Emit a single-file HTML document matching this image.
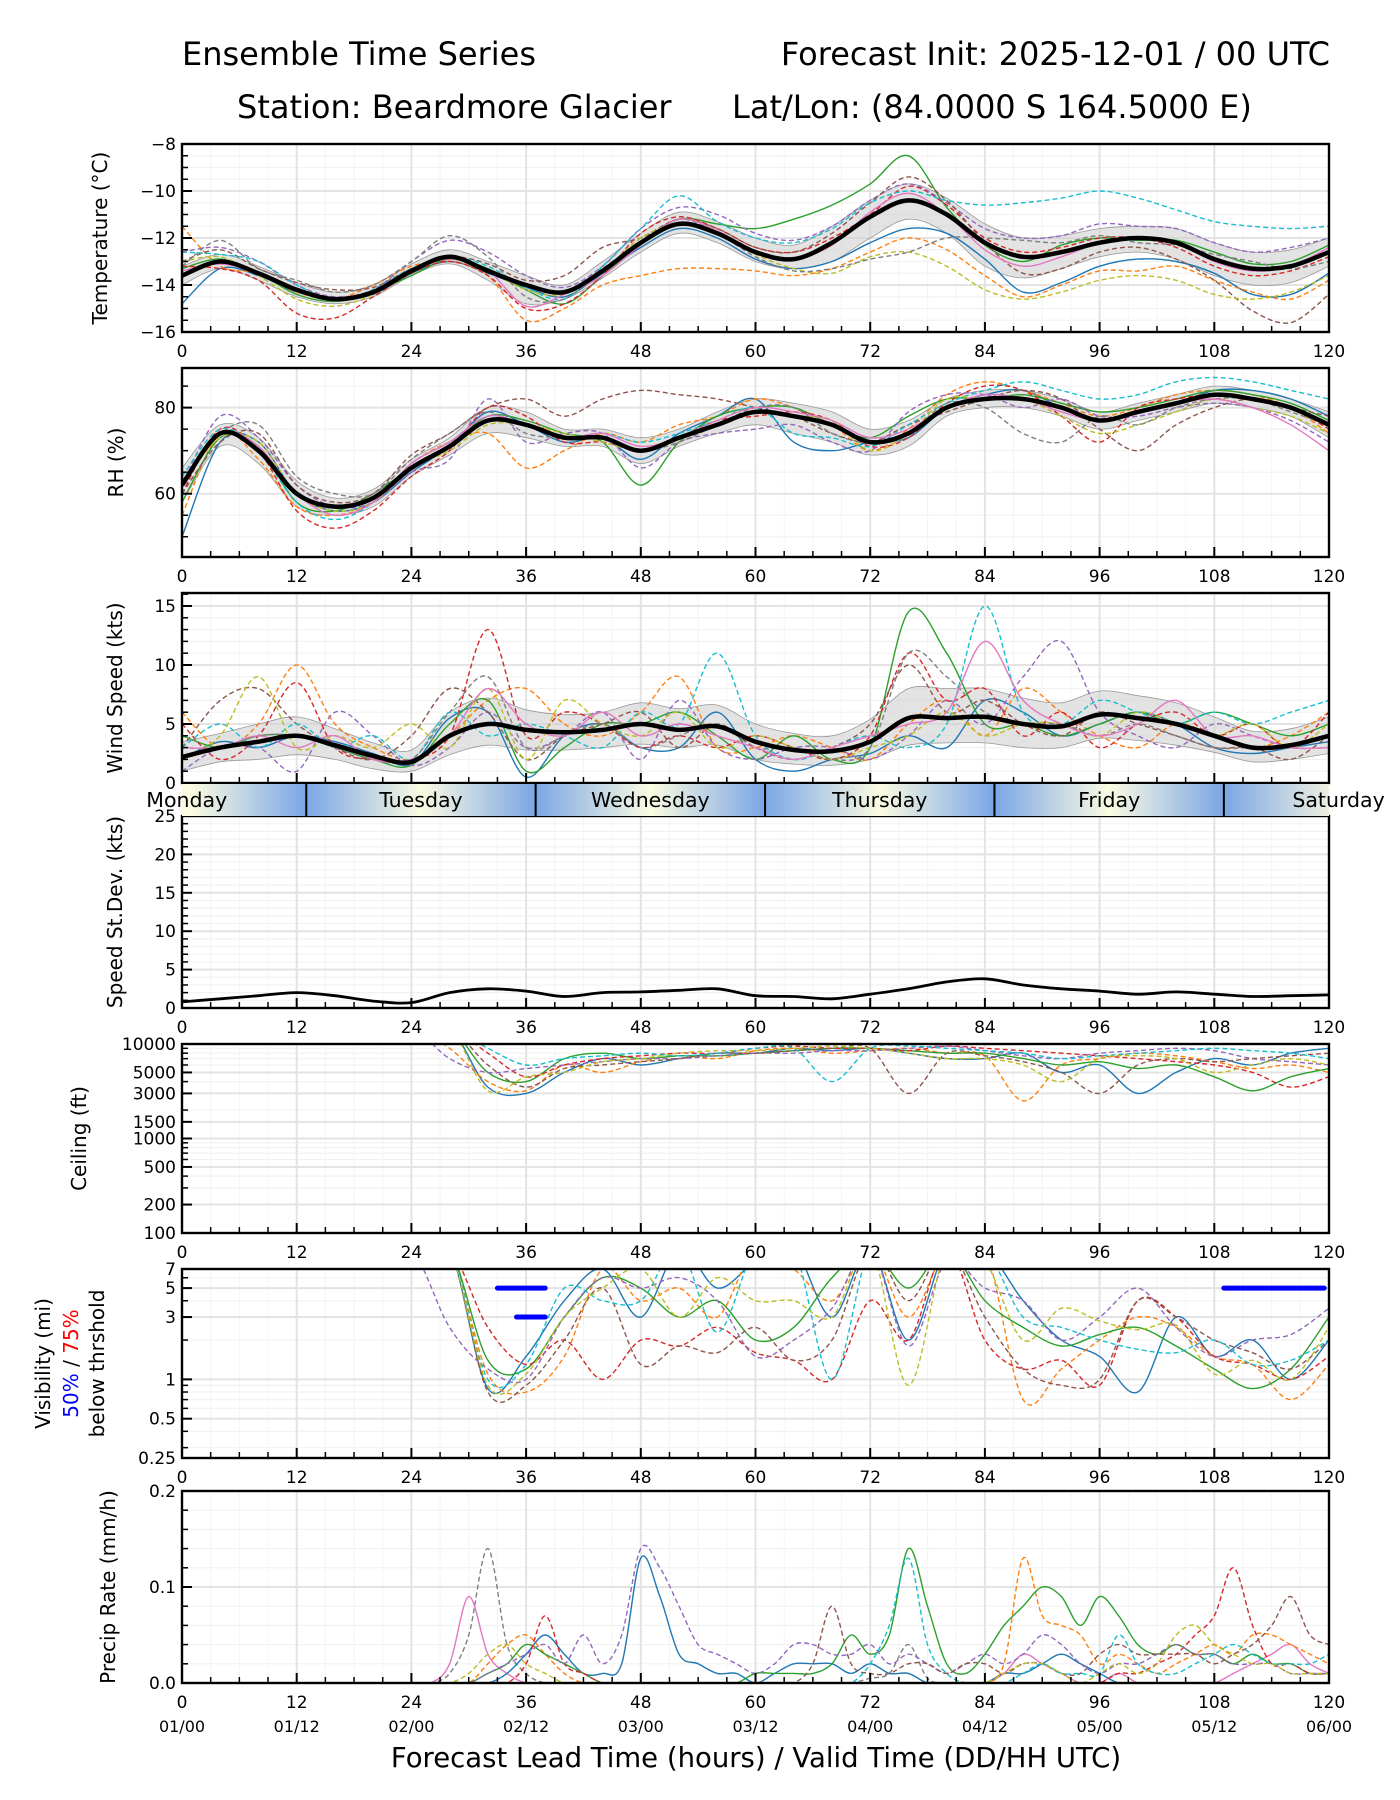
<!DOCTYPE html>
<html><head><meta charset="utf-8"><style>
html,body{margin:0;padding:0;background:#fff;}
svg{display:block;font-family:"DejaVu Sans","Liberation Sans",sans-serif;}
</style></head><body>
<svg id="fig" width="1400" height="1800" viewBox="0 0 1400 1800" xmlns="http://www.w3.org/2000/svg">
<defs>
<linearGradient id="dayGrad" x1="0" x2="1" y1="0" y2="0">
<stop offset="0" stop-color="#fbfbe2"/><stop offset="0.0083" stop-color="#fbfbe2"/>
<stop offset="0.108" stop-color="#7aa6e6"/><stop offset="0.2083" stop-color="#fbfbe2"/>
<stop offset="0.308" stop-color="#7aa6e6"/><stop offset="0.4083" stop-color="#fbfbe2"/>
<stop offset="0.508" stop-color="#7aa6e6"/><stop offset="0.6083" stop-color="#fbfbe2"/>
<stop offset="0.708" stop-color="#7aa6e6"/><stop offset="0.8083" stop-color="#fbfbe2"/>
<stop offset="0.908" stop-color="#7aa6e6"/><stop offset="1" stop-color="#eef0e0"/>
</linearGradient>
</defs>
<text x="182" y="65" font-size="32">Ensemble Time Series</text>
<text x="1330" y="65" font-size="32" text-anchor="end">Forecast Init: 2025-12-01 / 00 UTC</text>
<text x="237" y="118" font-size="32">Station: Beardmore Glacier</text>
<text x="732" y="118" font-size="32">Lat/Lon: (84.0000 S 164.5000 E)</text>
<g id="content"></g>
</svg>
<script>
// ---------- DATA ----------
const hours4 = [0,4,8,12,16,20,24,28,32,36,40,44,48,52,56,60,64,68,72,76,80,84,88,92,96,100,104,108,112,116,120];
const hours2 = [0,2,4,6,8,10,12,14,16,18,20,22,24,26,28,30,32,34,36,38,40,42,44,46,48,50,52,54,56,58,60,62,64,66,68,70,72,74,76,78,80,82,84,86,88,90,92,94,96,98,100,102,104,106,108,110,112,114,116,118,120];
const xTicks = [0,12,24,36,48,60,72,84,96,108,120];
const dateLabels = ["01/00","01/12","02/00","02/12","03/00","03/12","04/00","04/12","05/00","05/12","06/00"];
const dayNames = ["Monday","Tuesday","Wednesday","Thursday","Friday","Saturday"];
const dayCenters = [0.5,25,49,73,97,121];
const dayBounds = [13,37,61,85,109];

const tempMean = [-13.6,-13.0,-13.5,-14.2,-14.6,-14.3,-13.4,-12.8,-13.4,-14.0,-14.3,-13.4,-12.2,-11.4,-11.8,-12.6,-12.9,-12.2,-11.1,-10.4,-11.0,-12.2,-12.8,-12.6,-12.2,-12.0,-12.2,-12.9,-13.3,-13.2,-12.6];
const tempLo = [-14.0,-13.3,-13.8,-14.5,-14.8,-14.5,-13.6,-13.1,-13.8,-14.8,-14.6,-13.7,-12.6,-11.8,-12.2,-13.0,-13.3,-13.0,-12.0,-11.2,-11.8,-13.2,-13.7,-13.3,-12.8,-12.6,-12.9,-13.6,-14.0,-13.9,-13.2];
const tempHi = [-13.2,-12.7,-13.2,-13.9,-14.3,-14.0,-13.1,-12.5,-13.0,-13.6,-14.0,-13.0,-11.8,-10.9,-11.3,-12.0,-12.3,-11.5,-10.4,-9.7,-10.3,-11.4,-12.0,-11.9,-11.6,-11.5,-11.6,-12.2,-12.6,-12.5,-12.0];
const tempM1 = [-14.8,-13.3,-13.6,-14.3,-14.6,-14.4,-13.5,-13.0,-13.5,-14.1,-14.5,-13.5,-12.4,-11.6,-12.0,-12.9,-13.3,-13.0,-12.2,-11.6,-11.8,-12.9,-14.3,-13.9,-13.2,-12.9,-13.0,-13.5,-14.4,-14.4,-13.5];
const tempM2 = [-11.5,-13.2,-13.5,-14.3,-14.6,-14.0,-13.2,-13.0,-13.6,-15.5,-15.0,-14.0,-13.6,-13.3,-13.3,-13.4,-13.6,-13.3,-12.6,-12.0,-12.5,-13.6,-14.5,-14.0,-13.4,-13.4,-13.2,-13.8,-14.3,-14.6,-13.8];
const tempM3 = [-13.3,-12.9,-13.5,-14.4,-14.7,-14.3,-13.6,-12.9,-13.3,-14.2,-14.8,-13.6,-12.2,-11.2,-11.4,-11.6,-11.2,-10.6,-9.7,-8.5,-10.7,-12.3,-13.0,-12.3,-12.0,-12.1,-12.1,-12.6,-13.1,-13.0,-12.3];
const tempM4 = [-13.2,-13.3,-13.8,-15.2,-15.4,-14.5,-13.5,-13.0,-13.6,-15.0,-14.8,-13.6,-11.8,-11.1,-11.6,-12.4,-12.6,-12.0,-11.0,-9.8,-10.6,-12.0,-12.6,-12.4,-12.0,-12.0,-12.4,-13.2,-13.6,-13.4,-12.8];
const tempM5 = [-12.6,-12.4,-13.0,-14.0,-14.5,-14.2,-13.0,-12.1,-12.6,-13.6,-14.1,-13.2,-11.6,-10.7,-11.0,-11.8,-12.1,-11.5,-10.4,-9.7,-10.5,-11.6,-12.0,-11.9,-11.4,-11.5,-11.6,-12.2,-12.6,-12.4,-12.0];
const tempM6 = [-13.0,-12.5,-13.3,-13.9,-14.2,-14.1,-13.3,-12.8,-13.1,-13.8,-13.6,-12.4,-12.0,-11.2,-11.6,-12.4,-12.6,-11.8,-10.5,-9.4,-10.4,-12.2,-13.5,-13.3,-12.6,-12.4,-12.9,-13.8,-15.1,-15.6,-14.4];
const tempM7 = [-12.6,-12.7,-13.0,-14.0,-14.6,-14.2,-13.3,-12.8,-13.2,-14.1,-14.6,-13.2,-11.6,-10.2,-11.3,-12.0,-12.2,-11.6,-10.5,-10.0,-10.4,-10.6,-10.5,-10.3,-10.0,-10.3,-10.8,-11.3,-11.5,-11.6,-11.5];
const tempM8 = [-13.0,-12.8,-13.6,-14.6,-14.9,-14.4,-13.4,-12.9,-13.4,-14.2,-14.4,-13.4,-12.0,-11.4,-11.8,-12.7,-13.3,-13.5,-12.8,-12.6,-13.2,-14.2,-14.6,-14.3,-13.8,-13.6,-13.8,-14.4,-14.6,-14.3,-13.6];
const tempM9 = [-13.2,-12.1,-13.3,-13.8,-14.3,-14.0,-13.0,-11.9,-12.8,-14.5,-14.6,-13.3,-12.2,-11.2,-11.8,-12.8,-13.4,-13.3,-12.9,-12.6,-12.0,-12.0,-12.1,-12.2,-11.9,-12.2,-12.3,-12.7,-13.0,-13.3,-13.0];
const tempM10 = [-13.4,-13.1,-13.5,-14.2,-14.6,-14.3,-13.4,-12.9,-13.4,-14.9,-14.4,-13.6,-12.3,-11.2,-11.7,-12.6,-12.9,-12.3,-10.9,-10.1,-11.0,-12.5,-13.2,-12.8,-12.2,-12.0,-12.2,-13.0,-13.4,-13.2,-12.4];

const rhMean = [62,74,70,60,57,59,66,71,77,76,73,73,70,73,76,79,78,76,72,74,80,82,82,80,77,79,81,83,82,80,76];
const rhLo = [58,71,67,57,55,57,64,69,74,73,71,71,67,71,74,76,74,72,69,71,78,80,80,78,75,77,79,81,80,78,73];
const rhHi = [66,76,73,63,59,61,68,73,80,79,75,75,73,75,79,82,81,79,75,77,82,84,84,82,79,81,83,85,84,82,79];
const rhM1 = [50,72,72,60,56,58,65,71,79,76,72,73,68,74,78,82,72,70,72,73,80,83,84,80,77,79,81,84,84,82,78];
const rhM2 = [55,74,68,57,55,58,67,72,74,66,70,74,72,76,78,82,80,76,70,75,83,86,84,81,78,80,83,84,83,80,74];
const rhM3 = [58,73,71,58,56,60,66,71,78,77,74,72,62,72,78,80,80,76,73,78,82,82,83,81,79,80,82,84,83,81,77];
const rhM4 = [60,75,70,56,52,56,64,70,80,78,72,72,70,73,77,78,79,77,71,73,81,85,84,78,72,80,82,83,82,80,75];
const rhM5 = [62,78,73,62,57,58,65,68,82,72,74,74,66,72,74,75,76,72,70,79,83,83,80,82,78,78,80,81,80,77,72];
const rhM6 = [60,72,74,62,58,60,69,74,80,82,78,82,84,83,82,80,78,74,72,76,79,82,84,82,75,70,76,80,82,80,78];
const rhM7 = [64,75,70,58,54,58,67,72,78,76,73,74,72,74,77,80,74,73,71,76,81,84,86,84,82,83,86,87,86,84,82];
const rhM8 = [62,73,72,60,56,58,66,70,76,76,74,72,70,72,76,79,78,77,70,74,82,82,82,78,74,76,79,82,80,78,74];
const rhM9 = [63,74,76,64,60,60,68,74,79,74,73,73,70,72,76,80,80,74,72,74,81,80,74,72,78,76,80,82,82,79,76];
const rhM10 = [62,74,71,60,55,58,67,72,78,76,73,74,71,73,77,80,79,77,73,75,80,83,82,79,77,79,81,82,80,76,70];

const windMean = [2.2,3.0,3.5,4.0,3.2,2.3,1.8,4.0,5.0,4.5,4.3,4.5,5.0,4.5,4.8,3.5,2.8,2.7,3.5,5.5,5.5,5.6,5.0,4.8,5.8,5.5,5.0,4.0,3.0,3.2,4.0];
const windLo = [1.0,1.8,2.0,2.4,2.0,1.2,1.0,2.4,3.2,2.8,2.8,3.0,3.3,3.0,3.2,2.0,1.6,1.5,2.0,3.2,3.4,3.4,3.0,3.0,3.8,3.6,3.2,2.6,1.8,2.0,2.5];
const windHi = [3.5,4.2,5.0,5.6,4.6,3.4,2.8,6.0,7.2,6.2,5.8,6.0,6.8,6.3,6.6,5.0,4.2,4.0,5.4,8.0,8.0,8.0,7.2,6.8,7.8,7.4,6.8,5.6,4.4,4.6,5.6];
const windM1 = [2,3.5,3,4,3.5,2.5,1.6,5.5,6,0.5,4,5,3,3,6,2,1,2,2.5,4,3,7,6,4,5,6,5,3,2.5,3,3.5];
const windM2 = [6,3,5,10,5,3,2,4,7,8,5,4,6,9,3,3,4,3,2,5,7,4,8,6,4,3,5,4,3,4,6];
const windM3 = [4,3,4,4,3,2,1.5,5,7,1,3,5,5,6,4,2,4,2,3,14.5,11,5,5,4,5,6,5,6,5,4,5];
const windM4 = [5,2,4,8.5,3,2,2,4,13,4,6,5,3,4,3,4,3,2,4,11,7,8,4,6,3,5,6,4,5,3,6];
const windM5 = [1,3,3,1,6,4,1.5,3,6,3,4,6,2,7,3,2,3,3,2,4,7,5,9,12,6,4,3,5,4,3,3];
const windM6 = [3,7,8,5,3,2,4,8,6,2,4,5,6,3,5,3,2,3,5,10,6,7,5,4,6,5,4,3,3,2,4];
const windM7 = [3,5,3,5,3,4,2,6,4,5,4,3,6,5,11,4,2,3,4,3,5,15,6,5,7,6,5,6,5,6,7];
const windM8 = [2,4,9,3,4,3,5,3,8,2,7,5,4,6,3,4,3,2,3,4,6,4,5,5,4,6,5,4,5,3,5];
const windM9 = [3,3,4,4,3,2,2,6,9,3,4,5,3,4,5,3,3,2,3,11,9,6,5,5,4,5,4,3,3,3,4];
const windM10 = [3,3,4,3,4,2,2,4,8,5,4,6,4,5,4,3,2,3,4,5,6,12,7,5,4,5,7,4,4,3,3];

const sdMean = [0.8,1.2,1.6,2.0,1.6,0.9,0.7,2.0,2.5,2.2,1.5,2.0,2.1,2.3,2.5,1.6,1.5,1.2,1.8,2.5,3.4,3.8,3.0,2.5,2.2,1.8,2.1,1.8,1.5,1.6,1.7];

const ceilM1 = [15000,15000,15000,15000,15000,15000,15000,15000,3500,3000,5000,7000,6000,7000,8000,8000,9000,8500,9000,8000,7000,7000,8000,5000,6000,3000,5000,7000,6000,8000,9000];
const ceilM2 = [15000,15000,15000,15000,15000,15000,15000,9000,4000,3200,6000,5000,6500,7500,7000,8500,9000,8000,8500,9000,8000,7500,2500,6000,7000,8000,7500,6500,5500,6000,5000];
const ceilM3 = [15000,15000,15000,15000,15000,15000,15000,15000,5000,4000,7000,8000,7000,7500,7500,8000,8500,9000,9000,8500,8000,8000,7000,6000,6500,5500,6000,4500,3200,4500,5500];
const ceilM4 = [15000,15000,15000,15000,15000,15000,15000,15000,8000,4500,6000,7000,7500,8000,8000,9000,9500,9000,9000,8500,9500,9000,8500,8000,7500,7000,6500,6000,5000,3500,4500];
const ceilM5 = [15000,15000,15000,15000,15000,15000,15000,7000,5000,5500,6000,6500,7000,7000,7500,8000,8000,8500,8500,9000,9500,8500,7500,7000,8000,8500,9000,8500,7000,6500,6000];
const ceilM6 = [15000,15000,15000,15000,15000,15000,15000,15000,6000,3500,5500,6000,6500,7000,8000,8000,8500,9000,9000,3000,8000,7500,6500,5000,3000,6000,7000,6500,7000,7500,8000];
const ceilM7 = [15000,15000,15000,15000,15000,15000,15000,15000,9000,6000,7000,7500,8000,7500,8000,9000,9000,4000,9000,9500,9000,8500,8000,7000,7500,8000,8500,9000,8500,8000,7000];
const ceilM8 = [15000,15000,15000,15000,15000,15000,15000,15000,3200,4500,5000,6500,7000,8000,8500,8500,9000,9500,9000,8000,7000,7000,6000,4000,7000,7500,7000,5000,6000,7000,6000];

const visM1 = [10,10,10,10,10,10,10,10,0.85,1.5,4,7,3,10,5,8,10,3,10,2,10,10,4,2,1.5,0.8,3,1.5,2,1.0,2];
const visM2 = [10,10,10,10,10,10,10,10,1.1,0.8,1.5,7,4,5,3,10,7,4,10,3,10,10,0.7,1.2,2,3,2.5,1.5,1.3,0.7,1.3];
const visM3 = [10,10,10,10,10,10,10,10,1.4,1.2,3,6,5,3,4,2,2.5,6,10,5,10,4,2.5,1.8,2.2,2.5,1.8,1.2,0.85,1.2,3];
const visM4 = [10,10,10,10,10,10,10,10,2.5,1.3,2,1.0,2,1.8,2.5,1.6,1.4,1.0,4,2,10,2,1.2,1.4,0.9,4,3,1.5,1.3,1.0,1.5];
const visM5 = [10,10,10,10,10,10,10,2.5,1.2,1.0,3,6,5,6,4,1.5,2,3.5,10,1.8,8,5,4,2,3,5,2.5,1.5,2,2.2,3.5];
const visM6 = [10,10,10,10,10,10,10,10,0.8,0.9,2,5,1.3,1.8,1.6,2.5,1.4,2,10,4,10,3,1.2,0.9,1.0,4,3,2,1.6,1.2,2];
const visM7 = [10,10,10,10,10,10,10,10,1.0,1.3,5,4,4,10,2.3,10,10,1.0,10,7,10,10,3,2.5,2,1.7,1.6,2,1.3,1.4,2];
const visM8 = [10,10,10,10,10,10,10,10,0.9,1.1,3,5,7,3,6,4,4,3,10,0.9,10,8,2,3.5,2.8,2.4,2.6,1.1,1.4,1.0,2.5];
const visThreshA = [33,38,5];
const visThreshB = [35,38,3];
const visThreshC = [109,119.5,5];

const prM1 = [0,0,0,0,0,0,0,0,0,0,0,0,0,0,0.01,0.05,0.14,0.04,0.01,0,0,0,0,0,0,0,0,0,0,0,0,0,0,0,0,0,0.005,0.01,0.04,0.005,0,0,0,0,0,0,0,0,0,0,0,0,0,0,0,0,0,0,0,0,0];
const prM2 = [0,0,0,0,0,0,0,0,0,0,0,0,0,0,0.02,0.09,0.03,0.01,0,0,0,0,0,0,0,0,0,0,0,0,0,0,0,0,0,0,0,0,0,0,0,0,0,0.01,0.03,0.02,0.01,0,0,0.01,0,0,0,0,0,0.01,0.02,0.03,0.04,0.02,0.01];
const prM3 = [0,0,0,0,0,0,0,0,0,0,0,0,0,0,0,0,0,0.01,0.03,0.05,0.03,0.01,0.01,0.02,0.13,0.09,0.03,0.02,0.01,0.01,0,0.01,0.02,0.02,0.02,0.01,0.02,0.01,0.01,0,0,0,0,0.01,0.01,0.02,0.03,0.02,0.01,0,0,0,0,0,0,0,0,0,0,0,0];
const prM4 = [0,0,0,0,0,0,0,0,0,0,0,0,0,0,0,0,0.02,0.04,0.05,0.03,0.01,0,0,0,0,0,0,0,0,0,0,0,0,0,0,0,0,0,0,0,0,0,0,0.02,0.13,0.07,0.06,0.05,0.02,0.03,0.02,0.01,0.02,0.03,0.04,0.03,0.05,0.05,0.04,0.03,0.02];
const prM5 = [0,0,0,0,0,0,0,0,0,0,0,0,0,0,0,0,0.01,0.02,0.04,0.03,0.02,0.01,0,0,0,0,0,0,0,0,0.01,0.01,0.01,0.01,0.02,0.05,0.03,0.05,0.14,0.08,0.02,0.01,0.03,0.06,0.08,0.10,0.09,0.06,0.09,0.07,0.04,0.03,0.04,0.03,0.03,0.02,0.03,0.02,0.02,0.01,0.01];
const prM6 = [0,0,0,0,0,0,0,0,0,0,0,0,0,0,0,0,0,0,0.02,0.07,0.02,0.01,0,0,0,0,0,0,0,0,0,0,0,0,0,0,0,0,0,0,0,0,0,0,0,0,0,0,0,0.01,0.01,0.02,0.03,0.05,0.07,0.12,0.06,0.02,0.02,0.01,0.01];
const prM7 = [0,0,0,0,0,0,0,0,0,0,0,0,0,0,0,0,0.01,0.02,0.03,0.04,0.02,0.05,0.02,0.05,0.14,0.12,0.08,0.04,0.03,0.02,0.01,0.02,0.04,0.04,0.03,0.03,0.04,0.02,0.03,0.02,0.01,0.02,0.03,0.02,0.03,0.05,0.04,0.02,0.01,0.02,0.02,0.03,0.04,0.03,0.03,0.02,0.02,0.02,0.01,0.01,0.01];
const prM8 = [0,0,0,0,0,0,0,0,0,0,0,0,0,0,0,0,0,0,0,0,0,0,0,0,0,0,0,0,0,0,0,0,0,0.02,0.08,0.02,0.01,0.01,0.02,0.02,0.01,0.02,0.02,0.01,0.02,0.02,0.01,0.01,0.03,0.04,0.03,0.03,0.03,0.03,0.02,0.03,0.04,0.06,0.09,0.05,0.04];
const prM9 = [0,0,0,0,0,0,0,0,0,0,0,0,0,0,0,0,0,0,0,0,0,0,0,0,0,0,0,0,0,0,0,0,0,0,0,0,0.02,0.06,0.13,0.04,0.01,0,0,0,0.01,0.02,0.01,0.01,0.01,0.05,0.02,0.01,0.01,0.02,0.03,0.04,0.03,0.02,0.02,0.02,0.03];
const prM10 = [0,0,0,0,0,0,0,0,0,0,0,0,0,0,0,0.01,0.03,0.04,0.02,0.01,0,0,0,0,0,0,0,0,0,0,0,0,0,0,0,0,0,0,0,0,0,0,0,0.01,0.02,0.02,0.01,0,0.01,0.02,0.01,0.02,0.05,0.06,0.04,0.03,0.02,0.02,0.01,0.01,0.01];

const colors = ["#1f77b4","#ff7f0e","#2ca02c","#d62728","#9467bd","#8c564b","#17becf","#bcbd22","#7f7f7f","#e377c2"];
const dashes = [false,true,false,true,true,true,true,true,true,false];

// ---------- LAYOUT ----------
const NS = "http://www.w3.org/2000/svg";
const root = document.getElementById("content");
const X0 = 182, X1 = 1329;
function xs(h){ return X0 + h*(X1-X0)/120; }
function mk(tag, attrs, parent){
  const e = document.createElementNS(NS, tag);
  for (const k in attrs) e.setAttribute(k, attrs[k]);
  (parent||root).appendChild(e);
  return e;
}
function makeY(p){
  if (p.log){
    const a = Math.log(p.min), b = Math.log(p.max);
    return v => p.bot - (Math.log(v)-a)/(b-a)*(p.bot-p.top);
  }
  return v => p.bot - (v-p.min)/(p.max-p.min)*(p.bot-p.top);
}
function smoothPath(xsArr, ysArr){
  let d = "M" + xsArr[0].toFixed(1) + "," + ysArr[0].toFixed(1);
  for (let i=0;i<xsArr.length-1;i++){
    const x0=xsArr[Math.max(0,i-1)], y0=ysArr[Math.max(0,i-1)];
    const x1=xsArr[i], y1=ysArr[i], x2=xsArr[i+1], y2=ysArr[i+1];
    const x3=xsArr[Math.min(xsArr.length-1,i+2)], y3=ysArr[Math.min(xsArr.length-1,i+2)];
    const c1x=x1+(x2-x0)/6, c1y=y1+(y2-y0)/6, c2x=x2-(x3-x1)/6, c2y=y2-(y3-y1)/6;
    d += " C"+c1x.toFixed(1)+","+c1y.toFixed(1)+" "+c2x.toFixed(1)+","+c2y.toFixed(1)+" "+x2.toFixed(1)+","+y2.toFixed(1);
  }
  return d;
}

const panels = [
 {id:"temp", top:144, bot:332, min:-16, max:-8, ticks:[-16,-14,-12,-10,-8], labels:["\u221216","\u221214","\u221212","\u221210","\u22128"], minor:[-15.5,-15,-14.5,-13.5,-13,-12.5,-11.5,-11,-10.5,-9.5,-9,-8.5], ylabel:"Temperature (\u00b0C)", lx:107},
 {id:"rh", top:368, bot:557, min:45.3, max:89.2, ticks:[60,80], labels:["60","80"], minor:[50,55,65,70,75,85], ylabel:"RH (%)", lx:123},
 {id:"wind", top:593, bot:783, min:0, max:16.1, ticks:[0,5,10,15], labels:["0","5","10","15"], minor:[1,2,3,4,6,7,8,9,11,12,13,14,16], ylabel:"Wind Speed (kts)", lx:122, noXLabels:true},
 {id:"sd", top:816, bot:1008, min:0, max:25, ticks:[0,5,10,15,20,25], labels:["0","5","10","15","20","25"], minor:[1,2,3,4,6,7,8,9,11,12,13,14,16,17,18,19,21,22,23,24], ylabel:"Speed St.Dev. (kts)", lx:122},
 {id:"ceil", top:1044, bot:1233, min:100, max:10000, log:true, ticks:[100,200,500,1000,1500,3000,5000,10000], labels:["100","200","500","1000","1500","3000","5000","10000"], minor:[300,400,600,700,800,900,2000,4000,6000,7000,8000,9000], ylabel:"Ceiling (ft)", lx:86},
 {id:"vis", top:1269, bot:1458, min:0.25, max:7, log:true, ticks:[0.25,0.5,1,3,5,7], labels:["0.25","0.5","1","3","5","7"], minor:[0.3,0.4,0.6,0.7,0.8,0.9,2,4,6], ylabel:null},
 {id:"precip", top:1491, bot:1683, min:0, max:0.2, ticks:[0,0.1,0.2], labels:["0.0","0.1","0.2"], minor:[0.02,0.04,0.06,0.08,0.12,0.14,0.16,0.18], ylabel:"Precip Rate (mm/h)", lx:115}
];
const P = {}; panels.forEach(p=>{ p.y = makeY(p); P[p.id]=p; });

panels.forEach(p=>{
  const g = mk("g", {});
  
  
  p.g = g;
  const cp = mk("clipPath", {id:"clip-"+p.id}, g);
  mk("rect", {x:X0, y:p.top, width:X1-X0, height:p.bot-p.top}, cp);
  p.minor.forEach(v=>{
    const l = mk("line", {x1:X0, x2:X1, y1:p.y(v), y2:p.y(v), stroke:"#f2f2f2", "stroke-width":1.2}, g);
    
    
  });
  for (let h=3; h<120; h+=3){ if (h%12) {
    const l = mk("line", {x1:xs(h), x2:xs(h), y1:p.top, y2:p.bot, stroke:"#f4f4f4", "stroke-width":1}, g);
    
    
  }}
  p.ticks.forEach(v=>{
    const l = mk("line", {x1:X0, x2:X1, y1:p.y(v), y2:p.y(v), stroke:"#e3e3e3", "stroke-width":2}, g);
    
    
  });
  xTicks.forEach(h=>{
    const l = mk("line", {x1:xs(h), x2:xs(h), y1:p.top, y2:p.bot, stroke:"#e3e3e3", "stroke-width":2}, g);
    
    
  });
  p.data = mk("g", {"clip-path":"url(#clip-"+p.id+")"}, g);
  
  
});

function finishPanel(p){
  const g = p.g;
  const fr = mk("rect", {x:X0, y:p.top, width:X1-X0, height:p.bot-p.top, fill:"none", stroke:"#000", "stroke-width":2.4}, g);
  
  
  p.ticks.forEach((v,i)=>{
    mk("line", {x1:X0, x2:X0+10, y1:p.y(v), y2:p.y(v), stroke:"#000", "stroke-width":2}, g);
    const t = mk("text", {x:X0-6, y:p.y(v)+6, "font-size":17, "text-anchor":"end"}, g);
    t.textContent = p.labels[i];
    
    
  });
  p.minor.forEach(v=>{ mk("line", {x1:X0, x2:X0+6, y1:p.y(v), y2:p.y(v), stroke:"#000", "stroke-width":1.5}, g); });
  for (let h=3; h<120; h+=3){ if (h%12) mk("line", {x1:xs(h), x2:xs(h), y1:p.bot, y2:p.bot-6, stroke:"#000", "stroke-width":1.5}, g); }
  xTicks.forEach((h,i)=>{
    mk("line", {x1:xs(h), x2:xs(h), y1:p.bot, y2:p.bot-10, stroke:"#000", "stroke-width":2}, g);
    if (!p.noXLabels){
      const t = mk("text", {x:xs(h), y:p.bot+25, "font-size":17, "text-anchor":"middle"}, g);
      t.textContent = String(h);
      
      
    }
  });
  if (p.ylabel){
    const cy = (p.top+p.bot)/2;
    const t = mk("text", {x:p.lx, y:cy, "font-size":20, "text-anchor":"middle", transform:"rotate(-90 "+p.lx+" "+cy+")"}, g);
    t.textContent = p.ylabel;
    
    
  }
}

function drawSeries(p, hrs, vals, color, dashed, width){
  const path = mk("path", {d:smoothPath(hrs.map(xs), vals.map(v=>p.y(v))), fill:"none", stroke:color, "stroke-width":width||1.4, "stroke-dasharray":dashed?"5,3":"none", "stroke-linejoin":"round"}, p.data);
  
  
  return path;
}
function drawBand(p, hrs, lo, hi){
  const up = smoothPath(hrs.map(xs), hi.map(v=>p.y(v)));
  const rx = hrs.slice().reverse().map(xs), ry = lo.slice().reverse().map(v=>p.y(v));
  const dn = smoothPath(rx, ry).replace(/^M/, "L");
  const path = mk("path", {d:up+" "+dn+" Z", fill:"#d0d0d0", "fill-opacity":0.6, stroke:"#999", "stroke-width":0.8}, p.data);
  
  
}
function drawMean(p, hrs, vals, w){
  const path = mk("path", {d:smoothPath(hrs.map(xs), vals.map(v=>p.y(v))), fill:"none", stroke:"#000", "stroke-width":w, "stroke-linejoin":"round"}, p.data);
  
  
}

drawBand(P.temp, hours4, tempLo, tempHi);
[tempM1,tempM2,tempM3,tempM4,tempM5,tempM6,tempM7,tempM8,tempM9,tempM10].forEach((m,i)=>drawSeries(P.temp, hours4, m, colors[i], dashes[i]));
drawMean(P.temp, hours4, tempMean, 4.5);
drawBand(P.rh, hours4, rhLo, rhHi);
[rhM1,rhM2,rhM3,rhM4,rhM5,rhM6,rhM7,rhM8,rhM9,rhM10].forEach((m,i)=>drawSeries(P.rh, hours4, m, colors[i], dashes[i]));
drawMean(P.rh, hours4, rhMean, 4.5);
drawBand(P.wind, hours4, windLo, windHi);
[windM1,windM2,windM3,windM4,windM5,windM6,windM7,windM8,windM9,windM10].forEach((m,i)=>drawSeries(P.wind, hours4, m, colors[i], dashes[i]));
drawMean(P.wind, hours4, windMean, 4.5);
drawMean(P.sd, hours4, sdMean, 2.8);
[ceilM1,ceilM2,ceilM3,ceilM4,ceilM5,ceilM6,ceilM7,ceilM8].forEach((m,i)=>drawSeries(P.ceil, hours4, m, colors[i], dashes[i]));
[visM1,visM2,visM3,visM4,visM5,visM6,visM7,visM8].forEach((m,i)=>drawSeries(P.vis, hours4, m, colors[i], dashes[i]));
[visThreshA,visThreshB,visThreshC].forEach(t=>{
  const l = mk("line", {x1:xs(t[0]), x2:xs(t[1]), y1:P.vis.y(t[2]), y2:P.vis.y(t[2]), stroke:"#0000ff", "stroke-width":5, "stroke-linecap":"round"}, P.vis.data);
  
  
});
[prM1,prM2,prM3,prM4,prM5,prM6,prM7,prM8,prM9,prM10].forEach((m,i)=>drawSeries(P.precip, hours2, m, colors[(i+8)%10], dashes[(i+8)%10]));

panels.forEach(finishPanel);

(function(){
  const cy=(P.vis.top+P.vis.bot)/2;
  const t1 = mk("text", {x:50, y:cy, "font-size":20, "text-anchor":"middle", transform:"rotate(-90 50 "+cy+")"});
  t1.textContent = "Visibility (mi)";
  
  
  const t2 = mk("text", {x:78, y:cy, "font-size":20, "text-anchor":"middle", transform:"rotate(-90 78 "+cy+")"});
  t2.innerHTML = '<tspan fill="#0000ff">50%</tspan> / <tspan fill="#ff0000">75%</tspan>';
  
  
  const t3 = mk("text", {x:104, y:cy, "font-size":20, "text-anchor":"middle", transform:"rotate(-90 104 "+cy+")"});
  t3.textContent = "below thrshold";
  
  
})();

(function(){
  const g = mk("g", {});
  
  
  mk("rect", {x:X0, y:784, width:X1-X0, height:32, fill:"url(#dayGrad)"}, g);
  dayBounds.forEach(h=>{
    const l = mk("line", {x1:xs(h), x2:xs(h), y1:784, y2:816, stroke:"#000", "stroke-width":2}, g);
    
    
  });
  dayNames.forEach((n,i)=>{
    const t = mk("text", {x:xs(dayCenters[i]), y:807, "font-size":20.5, "text-anchor":"middle"}, g);
    t.textContent = n;
    
    
  });
})();

xTicks.forEach((h,i)=>{
  const t = mk("text", {x:xs(h), y:1732, "font-size":16, "text-anchor":"middle"});
  t.textContent = dateLabels[i];
  
  
});
(function(){
  const t = mk("text", {x:756, y:1767, "font-size":27.5, "text-anchor":"middle"});
  t.textContent = "Forecast Lead Time (hours) / Valid Time (DD/HH UTC)";
  
  
})();
</script>
</body></html>
